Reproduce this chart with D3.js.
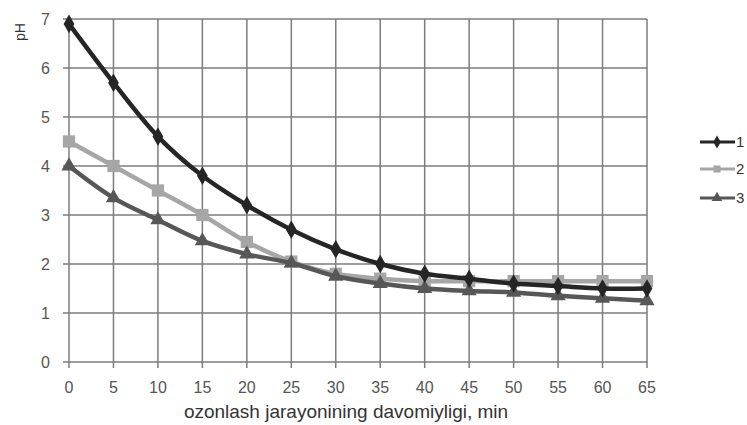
<!DOCTYPE html>
<html>
<head>
<meta charset="utf-8">
<script src="https://cdn.jsdelivr.net/npm/d3@7"></script>
<style>
  body { margin: 0; background: #fff; overflow: hidden; }
  svg { display: block; }
  text { font-family: "Liberation Sans", Arial, sans-serif; }
</style>
</head>
<body>
<div id="chart"></div>
<script>
// data
var minutes = [0, 5, 10, 15, 20, 25, 30, 35, 40, 45, 50, 55, 60, 65];
var series1 = [6.9, 5.7, 4.6, 3.8, 3.2, 2.7, 2.3, 2.0, 1.8, 1.7, 1.6, 1.55, 1.5, 1.5];
var series2 = [4.5, 4.0, 3.5, 3.0, 2.45, 2.05, 1.8, 1.7, 1.65, 1.65, 1.65, 1.65, 1.65, 1.65];
var series3 = [4.0, 3.35, 2.9, 2.47, 2.2, 2.02, 1.75, 1.6, 1.5, 1.45, 1.42, 1.35, 1.3, 1.25];
var yTicks = [0, 1, 2, 3, 4, 5, 6, 7];
var names = ["1", "2", "3"];

var W = 747, H = 425;
var svg = d3.select("#chart").append("svg")
    .attr("width", W)
    .attr("height", H);

var x = d3.scaleLinear().domain([0, 65]).range([69, 647]);
var y = d3.scaleLinear().domain([0, 7]).range([362, 19]);

// grid
svg.append("g").selectAll("line.v")
    .data(minutes).enter().append("line")
    .attr("x1", function(d){ return x(d); })
    .attr("x2", function(d){ return x(d); })
    .attr("y1", y(7)).attr("y2", y(0) + 6)
    .attr("stroke", "#7d7d7d").attr("stroke-width", 1.5);

svg.append("g").selectAll("line.h")
    .data(yTicks).enter().append("line")
    .attr("x1", x(0) - 6).attr("x2", x(65))
    .attr("y1", function(d){ return y(d); })
    .attr("y2", function(d){ return y(d); })
    .attr("stroke", "#7d7d7d").attr("stroke-width", 1.5);

// tick labels
svg.append("g").selectAll("text")
    .data(yTicks).enter().append("text")
    .attr("x", 50).attr("y", function(d){ return y(d); })
    .attr("dy", "0.36em")
    .attr("text-anchor", "end")
    .attr("font-size", 16).attr("fill", "#555")
    .text(function(d){ return d; });

svg.append("g").selectAll("text")
    .data(minutes).enter().append("text")
    .attr("x", function(d){ return x(d); }).attr("y", 393)
    .attr("text-anchor", "middle")
    .attr("font-size", 16).attr("fill", "#555")
    .text(function(d){ return d; });

// axis titles
svg.append("text")
    .attr("transform", "translate(20,32) rotate(-90)")
    .attr("text-anchor", "middle").attr("dy", "0.35em")
    .attr("font-size", 14).attr("fill", "#333")
    .text("pH");

svg.append("text")
    .attr("x", 346).attr("y", 418)
    .attr("text-anchor", "middle")
    .attr("font-size", 19).attr("fill", "#333")
    .text("ozonlash jarayonining davomiyligi, min");

// lines
var allSeries = [
  { name: names[0], values: series1, color: "#252525", sym: d3.symbolDiamond },
  { name: names[1], values: series2, color: "#a6a6a6", sym: d3.symbolSquare },
  { name: names[2], values: series3, color: "#575757", sym: d3.symbolTriangle }
];

var line = d3.line()
    .x(function(d, i){ return x(minutes[i]); })
    .y(function(d){ return y(d); })
    .curve(d3.curveCatmullRom.alpha(0.5));

// draw 2 first, then 3, then 1 on top
[1, 2, 0].forEach(function(k){
  var s = allSeries[k];
  var g = svg.append("g");
  g.append("path")
    .attr("d", line(s.values))
    .attr("fill", "none")
    .attr("stroke", s.color)
    .attr("stroke-width", 4.5);
  g.selectAll("path.m")
    .data(s.values).enter().append("path")
    .attr("transform", function(d, i){ return "translate(" + x(minutes[i]) + "," + y(d) + ")"; })
    .attr("d", d3.symbol().type(s.sym).size(k == 1 ? 150 : 100))
    .attr("fill", s.color);
});

// legend
var leg = svg.append("g");
allSeries.forEach(function(s, i){
  var ly = [142, 169, 198][i];
  leg.append("line")
    .attr("x1", 700).attr("x2", 735)
    .attr("y1", ly).attr("y2", ly)
    .attr("stroke", s.color).attr("stroke-width", 3);
  leg.append("path")
    .attr("transform", "translate(717," + ly + ")")
    .attr("d", d3.symbol().type(s.sym).size(50))
    .attr("fill", s.color);
  leg.append("text")
    .attr("x", 736).attr("y", ly).attr("dy", "0.36em")
    .attr("font-size", 15).attr("fill", "#333")
    .text(s.name);
});
</script>
</body>
</html>
